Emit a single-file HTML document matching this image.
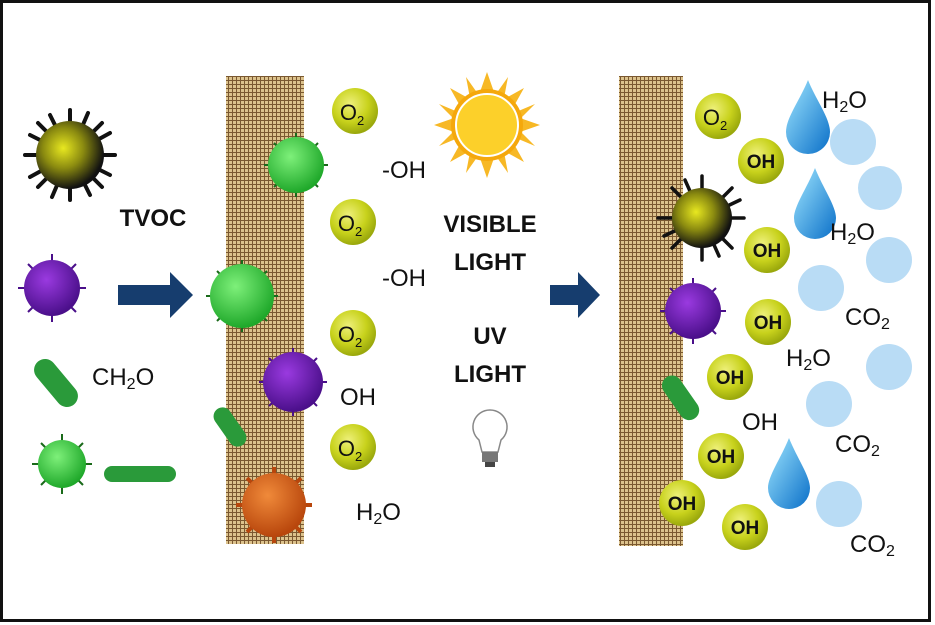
<!DOCTYPE html>
<html><head><meta charset="utf-8"><style>
html,body{margin:0;padding:0;background:#fff}
svg{display:block}
text{font-family:"Liberation Sans","DejaVu Sans",sans-serif}
</style></head><body>
<svg width="935" height="625" viewBox="0 0 935 625" xmlns="http://www.w3.org/2000/svg">
<defs>
<pattern id="mesh" width="4" height="4" patternUnits="userSpaceOnUse">
<rect width="4" height="4" fill="#dcc28c"/>
<rect x="0" y="0" width="4" height="1" fill="#7a5830"/>
<rect x="0" y="0" width="1" height="4" fill="#7a5830"/>
</pattern>
<radialGradient id="yg" cx="40%" cy="35%" r="65%"><stop offset="0" stop-color="#eef07a"/><stop offset="0.6" stop-color="#c8d21c"/><stop offset="1" stop-color="#9aa80c"/></radialGradient>
<radialGradient id="gg" cx="40%" cy="35%" r="65%"><stop offset="0" stop-color="#7ef07a"/><stop offset="1" stop-color="#1fa82a"/></radialGradient>
<radialGradient id="pg" cx="40%" cy="35%" r="65%"><stop offset="0" stop-color="#9a3ae0"/><stop offset="1" stop-color="#4a0f8a"/></radialGradient>
<radialGradient id="og" cx="40%" cy="35%" r="65%"><stop offset="0" stop-color="#f08a3a"/><stop offset="1" stop-color="#b8460c"/></radialGradient>
<radialGradient id="kg" cx="40%" cy="40%" r="60%"><stop offset="0" stop-color="#e8e820"/><stop offset="0.5" stop-color="#8a8a10"/><stop offset="1" stop-color="#111"/></radialGradient>
<linearGradient id="dg" x1="0" y1="0" x2="1" y2="1"><stop offset="0" stop-color="#9fe6ff"/><stop offset="1" stop-color="#0a6fc8"/></linearGradient>
</defs>
<rect x="1.5" y="1.5" width="928" height="619" fill="#fff" stroke="#111" stroke-width="3"/>

<rect x="226" y="76" width="78" height="468" fill="url(#mesh)"/>
<rect x="619" y="76" width="64" height="470" fill="url(#mesh)"/>

<polygon points="118,285 170,285 170,272 193,295 170,318 170,305 118,305" fill="#163d6e"/>
<polygon points="550,285 578,285 578,272 600,295 578,318 578,305 550,305" fill="#163d6e"/>

<g stroke="#111" stroke-width="4" stroke-linecap="round">
<line x1="25" y1="155" x2="115" y2="155"/><line x1="70" y1="110" x2="70" y2="200"/>
<line x1="38" y1="123" x2="102" y2="187"/><line x1="102" y1="123" x2="38" y2="187"/>
<line x1="50" y1="115" x2="90" y2="195"/><line x1="30" y1="177" x2="110" y2="133"/>
<line x1="30" y1="135" x2="110" y2="175"/><line x1="88" y1="113" x2="52" y2="197"/>
</g>
<circle cx="70" cy="155" r="34" fill="url(#kg)"/>
<g stroke="#4a0f8a" stroke-width="2"><line x1="18" y1="288" x2="86" y2="288"/><line x1="52" y1="254" x2="52" y2="322"/><line x1="28" y1="264" x2="76" y2="312"/><line x1="76" y1="264" x2="28" y2="312"/></g>
<circle cx="52" cy="288" r="28" fill="url(#pg)"/>
<rect x="28" y="372" width="56" height="22" rx="11" fill="#2a9a3a" transform="rotate(50 56 383)"/>
<g stroke="#1a6a1a" stroke-width="2"><line x1="32" y1="464" x2="92" y2="464"/><line x1="62" y1="434" x2="62" y2="494"/><line x1="41" y1="443" x2="83" y2="485"/><line x1="83" y1="443" x2="41" y2="485"/></g>
<circle cx="62" cy="464" r="24" fill="url(#gg)"/>
<rect x="104" y="466" width="72" height="16" rx="8" fill="#2a9a3a"/>

<g stroke="#1a6a1a" stroke-width="2"><line x1="264" y1="165" x2="328" y2="165"/><line x1="296" y1="133" x2="296" y2="197"/><line x1="274" y1="143" x2="318" y2="187"/><line x1="318" y1="143" x2="274" y2="187"/></g>
<circle cx="296" cy="165" r="28" fill="url(#gg)"/>
<g stroke="#1a6a1a" stroke-width="2"><line x1="206" y1="296" x2="278" y2="296"/><line x1="242" y1="260" x2="242" y2="332"/><line x1="217" y1="271" x2="267" y2="321"/><line x1="267" y1="271" x2="217" y2="321"/></g>
<circle cx="242" cy="296" r="32" fill="url(#gg)"/>
<g stroke="#4a0f8a" stroke-width="2"><line x1="259" y1="382" x2="327" y2="382"/><line x1="293" y1="348" x2="293" y2="416"/><line x1="269" y1="358" x2="317" y2="406"/><line x1="317" y1="358" x2="269" y2="406"/></g>
<circle cx="293" cy="382" r="30" fill="url(#pg)"/>
<rect x="208" y="418" width="44" height="18" rx="9" fill="#2a9a3a" transform="rotate(55 230 427)"/>
<g stroke="#b8460c" stroke-width="4"><line x1="236" y1="505" x2="312" y2="505"/><line x1="274" y1="467" x2="274" y2="543"/><line x1="247" y1="478" x2="301" y2="532"/><line x1="301" y1="478" x2="247" y2="532"/></g>
<circle cx="274" cy="505" r="32" fill="url(#og)"/>

<g stroke="#111" stroke-width="3.5" stroke-linecap="round"><line x1="658" y1="218" x2="744" y2="218"/><line x1="702" y1="176" x2="702" y2="260"/><line x1="672" y1="188" x2="732" y2="248"/><line x1="732" y1="188" x2="672" y2="248"/><line x1="685" y1="180" x2="719" y2="256"/><line x1="664" y1="236" x2="740" y2="200"/></g>
<circle cx="702" cy="218" r="30" fill="url(#kg)"/>
<g stroke="#4a0f8a" stroke-width="2"><line x1="660" y1="311" x2="726" y2="311"/><line x1="693" y1="278" x2="693" y2="344"/><line x1="670" y1="288" x2="716" y2="334"/><line x1="716" y1="288" x2="670" y2="334"/></g>
<circle cx="693" cy="311" r="28" fill="url(#pg)"/>
<rect x="656" y="387" width="50" height="20" rx="10" fill="#2a9a3a" transform="rotate(55 680 397)"/>

<g fill="url(#yg)">
<circle cx="355" cy="111" r="23"/><circle cx="353" cy="222" r="23"/><circle cx="353" cy="333" r="23"/><circle cx="353" cy="447" r="23"/>
<circle cx="718" cy="116" r="23"/><circle cx="761" cy="161" r="23"/><circle cx="767" cy="250" r="23"/><circle cx="768" cy="322" r="23"/><circle cx="730" cy="377" r="23"/><circle cx="721" cy="456" r="23"/><circle cx="682" cy="503" r="23"/><circle cx="745" cy="527" r="23"/>
</g>
<g font-size="22" fill="#111" text-anchor="middle">
<text x="352" y="120">O<tspan font-size="13" dy="5">2</tspan></text>
<text x="350" y="231">O<tspan font-size="13" dy="5">2</tspan></text>
<text x="350" y="342">O<tspan font-size="13" dy="5">2</tspan></text>
<text x="350" y="456">O<tspan font-size="13" dy="5">2</tspan></text>
<text x="715" y="125">O<tspan font-size="13" dy="5">2</tspan></text>
</g>
<g font-size="19" font-weight="bold" fill="#111" text-anchor="middle">
<text x="761" y="168">OH</text><text x="767" y="257">OH</text><text x="768" y="329">OH</text><text x="730" y="384">OH</text><text x="721" y="463">OH</text><text x="682" y="510">OH</text><text x="745" y="534">OH</text>
</g>

<g fill="#b9dcf5">
<circle cx="853" cy="142" r="23"/><circle cx="880" cy="188" r="22"/><circle cx="889" cy="260" r="23"/><circle cx="821" cy="288" r="23"/><circle cx="889" cy="367" r="23"/><circle cx="829" cy="404" r="23"/><circle cx="839" cy="504" r="23"/>
</g>
<g fill="url(#dg)">
<path d="M808,80 C816,100 830,118 830,132 A22,22 0 0 1 786,132 C786,118 800,100 808,80Z"/>
<path d="M815,168 C823,188 836,206 836,218 A21,21 0 0 1 794,218 C794,206 807,188 815,168Z"/>
<path d="M789,438 C797,458 810,476 810,488 A21,21 0 0 1 768,488 C768,476 781,458 789,438Z"/>
</g>

<g font-size="24" fill="#111">
<text x="382" y="178">-OH</text><text x="382" y="286">-OH</text><text x="340" y="405">OH</text>
<text x="356" y="520">H<tspan font-size="16" dy="4">2</tspan><tspan dy="-4">O</tspan></text>
<text x="92" y="385">CH<tspan font-size="16" dy="4">2</tspan><tspan dy="-4">O</tspan></text>
<text x="822" y="108">H<tspan font-size="16" dy="4">2</tspan><tspan dy="-4">O</tspan></text>
<text x="830" y="240">H<tspan font-size="16" dy="4">2</tspan><tspan dy="-4">O</tspan></text>
<text x="845" y="325">CO<tspan font-size="16" dy="4">2</tspan></text>
<text x="786" y="366">H<tspan font-size="16" dy="4">2</tspan><tspan dy="-4">O</tspan></text>
<text x="742" y="430">OH</text>
<text x="835" y="452">CO<tspan font-size="16" dy="4">2</tspan></text>
<text x="850" y="552">CO<tspan font-size="16" dy="4">2</tspan></text>
</g>
<g font-size="24" font-weight="bold" fill="#111" text-anchor="middle">
<text x="153" y="226">TVOC</text>
<text x="490" y="232">VISIBLE</text><text x="490" y="270">LIGHT</text>
<text x="490" y="344">UV</text><text x="490" y="382">LIGHT</text>
</g>

<g fill="#f7b825">
<polygon points="487,72 494,92 480,92"/><polygon points="487,178 494,158 480,158"/>
<polygon points="434,125 454,118 454,132"/><polygon points="540,125 520,118 520,132"/>
<polygon points="450,88 468,98 460,106"/><polygon points="524,88 506,98 514,106"/>
<polygon points="450,162 468,152 460,144"/><polygon points="524,162 506,152 514,144"/>
<polygon points="466,77 478,94 470,98"/><polygon points="508,77 496,94 504,98"/>
<polygon points="466,173 478,156 470,152"/><polygon points="508,173 496,156 504,152"/>
<polygon points="439,104 458,112 455,120"/><polygon points="535,104 516,112 519,120"/>
<polygon points="439,146 458,138 455,130"/><polygon points="535,146 516,138 519,130"/>
</g>
<circle cx="487" cy="125" r="36" fill="#f5a80c"/>
<circle cx="487" cy="125" r="31" fill="#fcd02a" stroke="#fff" stroke-width="2"/>

<path d="M490,410 A17,17 0 0 1 501,440 L498,452 L482,452 L479,440 A17,17 0 0 1 490,410Z" fill="#fff" stroke="#888" stroke-width="1.5"/>
<rect x="482" y="452" width="16" height="10" fill="#777"/>
<rect x="485" y="462" width="10" height="5" fill="#444"/>
</svg>
</body></html>
